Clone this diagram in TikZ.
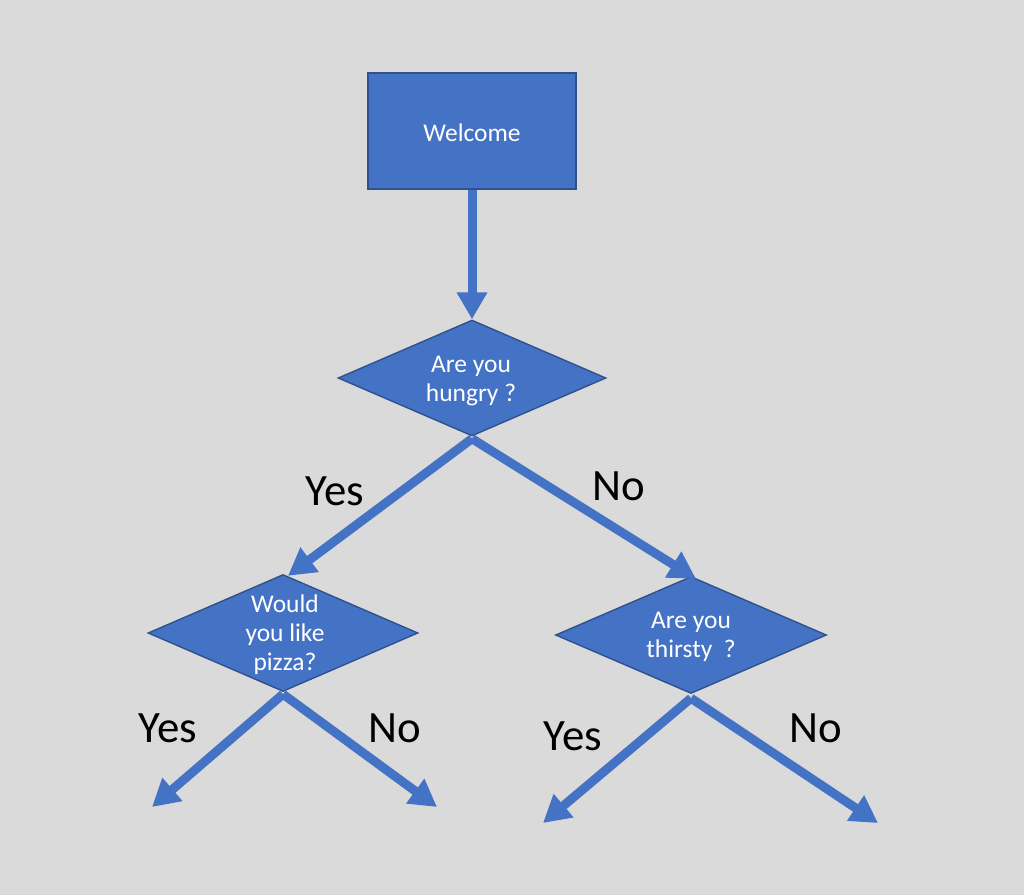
\documentclass[tikz,border=0pt]{standalone}
\usepackage{fontspec}
\setmainfont{Carlito}
\usetikzlibrary{shapes.geometric,arrows.meta}
\definecolor{bg}{RGB}{218,218,218}
\definecolor{blu}{RGB}{68,114,196}
\definecolor{bord}{RGB}{47,82,143}
\begin{document}
\begin{tikzpicture}[x=0.02cm,y=-0.02cm,
  rectbox/.style={rectangle, draw=bord, fill=blu, line width=0.8pt, inner sep=0pt,
    minimum width=4.16cm, minimum height=2.32cm},
  dia/.style={diamond, draw=bord, fill=blu, line width=0.8pt, inner sep=0pt},
  txt/.style={text=white, font=\fontsize{14.5}{16.5}\selectfont, align=center, inner sep=0pt},
  lab/.style={text=black, font=\fontsize{25.5}{30}\selectfont, inner sep=0pt},
  arr/.style={draw=blu, line width=0.18cm, -{Triangle[width=0.58cm,length=0.54cm]}}]
\useasboundingbox (0,0) rectangle (1024,895);
\fill[bg] (0,0) rectangle (1024,895);

\node[rectbox] (w) at (472,131) {};
\node[txt] (tw) at (472,133) {Welcome};
\node[dia, minimum width=5.36cm, minimum height=2.32cm] (d1) at (472,378) {};
\node[txt] (t1) at (471,381) {Are you\\hungry ?};
\node[dia, minimum width=5.4cm, minimum height=2.34cm] (d2) at (283,633) {};
\node[txt] (t2) at (285,635) {Would\\you like\\pizza?};
\node[dia, minimum width=5.42cm, minimum height=2.34cm] (d3) at (691,635) {};
\node[txt] (t3) at (691,637) {Are you\\thirsty\ \ ?};

\coordinate (l1) at (152,807);
\coordinate (l2) at (437,807);
\coordinate (l3) at (543,823);
\coordinate (l4) at (878,823);

\draw[arr] (w.south) -- (d1.north);
\draw[arr] ([yshift=-0.04cm]d1.south) -- ([xshift=0.1cm,yshift=-0.04cm]d2.north);
\draw[arr] ([yshift=-0.04cm]d1.south) -- ([xshift=0.1cm,yshift=-0.06cm]d3.north);
\draw[arr] ([yshift=-0.04cm]d2.south) -- (l1);
\draw[arr] ([yshift=-0.04cm]d2.south) -- (l2);
\draw[arr] ([yshift=-0.08cm]d3.south) -- (l3);
\draw[arr] ([yshift=-0.08cm]d3.south) -- (l4);

\node[lab] (y1) at (335,491) {Yes};
\node[lab] (n1) at (619,486) {No};
\node[lab] (y2) at (168,728) {Yes};
\node[lab] (n2) at (395,728) {No};
\node[lab] (y3) at (573,736) {Yes};
\node[lab] (n3) at (816,728) {No};
\end{tikzpicture}
\end{document}
